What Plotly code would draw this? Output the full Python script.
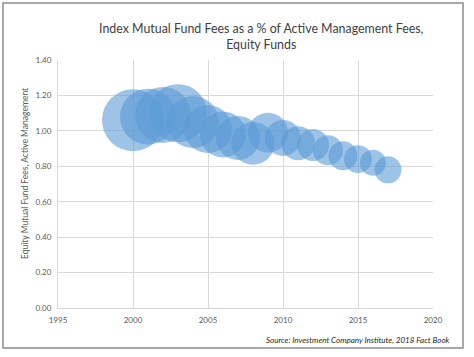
import plotly.graph_objects as go

years = [2000, 2001, 2002, 2003, 2004, 2005, 2006, 2007, 2008,
         2009, 2010, 2011, 2012, 2013, 2014, 2015, 2016, 2017]
active_fees = [1.06, 1.08, 1.09, 1.10, 1.05, 1.01, 0.98, 0.96, 0.93,
               0.99, 0.96, 0.93, 0.92, 0.89, 0.86, 0.84, 0.82, 0.78]
bubble_size = [31, 28, 28, 29, 26, 24, 23, 22, 21.5,
               20, 18, 17, 16, 15, 14.5, 14, 13, 13.5]

title_text = "Index Mutual Fund Fees as a % of Active Management Fees,<br>Equity Funds"
y_title = "Equity Mutual Fund Fees, Active Management"
source_text = "Source: Investment Company Institute, 2018 Fact Book"
x_ticks = [1995, 2000, 2005, 2010, 2015, 2020]
y_ticks = [0.0, 0.2, 0.4, 0.6, 0.8, 1.0, 1.2, 1.4]

FONT = "Lato, Open Sans, sans-serif"
GRID = "#d9d9d9"
TICK = "#595959"

fig = go.Figure(go.Scatter(
    x=years, y=active_fees, mode="markers",
    marker=dict(size=bubble_size, sizemode="diameter", sizeref=0.5,
                color="rgba(91,155,213,0.85)", line=dict(width=0)),
    hoverinfo="x+y",
))

W, H = 474, 357
L, R, T, B = 58, 41, 60, 49
pw, ph = W - L - R, H - T - B

def px(xp):
    return (xp - L) / pw

def py(yp):
    return (H - B - yp) / ph

fig.update_layout(
    width=W, height=H,
    margin=dict(l=L, r=R, t=T, b=B, pad=0),
    paper_bgcolor="white", plot_bgcolor="white",
    showlegend=False,
    font=dict(family=FONT, color=TICK, size=8),
    xaxis=dict(range=[1995, 2020], tickvals=x_ticks, ticktext=[str(v) for v in x_ticks],
               showgrid=True, gridcolor=GRID, gridwidth=1, zeroline=False,
               showline=True, linecolor=GRID, linewidth=1, mirror=False,
               ticks="", ticklabelstandoff=4, tickfont=dict(size=8, color=TICK), fixedrange=True),
    yaxis=dict(range=[0, 1.4], tickvals=y_ticks, ticktext=[f"{v:.2f}" for v in y_ticks],
               showgrid=True, gridcolor=GRID, gridwidth=1, zeroline=False,
               showline=True, linecolor=GRID, linewidth=1,
               ticks="", ticklabelstandoff=4, tickfont=dict(size=8, color=TICK), fixedrange=True),
    shapes=[dict(type="rect", xref="paper", yref="paper",
                 x0=px(3), x1=px(463), y0=py(348), y1=py(3),
                 line=dict(color="#8c8c8c", width=1.5), fillcolor="rgba(0,0,0,0)", layer="below")],
    annotations=[
        dict(text=title_text, xref="paper", yref="paper", x=px(261), y=py(36),
             xanchor="center", yanchor="middle", showarrow=False, align="center",
             font=dict(family=FONT, size=12.4, color="#404040")),
        dict(text=y_title, xref="paper", yref="paper", x=px(25), y=py(174),
             xanchor="center", yanchor="middle", showarrow=False, textangle=-90,
             font=dict(family=FONT, size=8.5, color=TICK)),
        dict(text="<i>" + source_text + "</i>", xref="paper", yref="paper", x=px(452), y=py(340),
             xanchor="right", yanchor="middle", showarrow=False,
             font=dict(family=FONT, size=8, color="#262626")),
    ],
)

fig.write_html("out.html", config={"displayModeBar": False},
               post_script="document.body.style.margin='0px';")
